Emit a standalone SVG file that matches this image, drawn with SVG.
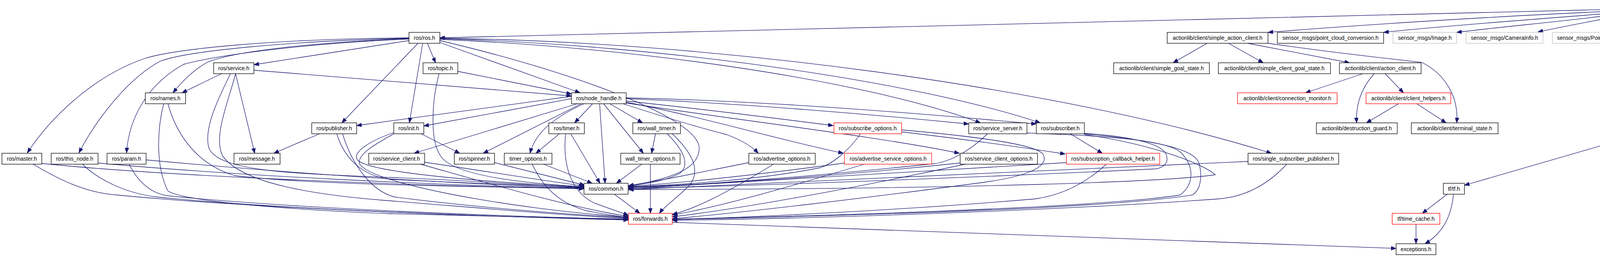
<svg xmlns="http://www.w3.org/2000/svg" width="6012" height="659" viewBox="0 0 6012 659">
<style>
rect{fill:#fff;stroke:#000;stroke-width:1.3}
rect.r{stroke:#ff0000}
rect.g{stroke:#bfbfbf}
rect.root{fill:#bfbfbf;stroke:#000}
text{font-family:"Liberation Sans",Arial,sans-serif;font-size:14px;text-anchor:middle;fill:#000}
#edges path{fill:none;stroke:#191970;stroke-width:1.3;marker-end:url(#a)}
</style>
<defs>
<marker id="a" markerWidth="14" markerHeight="10" refX="13" refY="5" orient="auto" markerUnits="userSpaceOnUse"><path d="M0,0 L13,5 L0,10 z" fill="#191970" stroke="#191970" stroke-width="1"/></marker>
</defs>
<rect x="0" y="0" width="6012" height="659" style="fill:#fff;stroke:none"/>
<g id="edges">
<path d="M4168,23 C3400,40 2000,78 1126,97"/>
<path d="M4168,27 C3900,38 3500,62 3246,83"/>
<path d="M4168,30 C4000,45 3700,65 3542,83"/>
<path d="M4168,33 C4050,50 3850,68 3729,83"/>
<path d="M4180,34 C4100,50 4000,68 3937,82"/>
<path d="M4262,34 L4117,83"/>
<path d="M4304,34 L4304,83"/>
<path d="M4356,34 L4529,83"/>
<path d="M4414,34 L4797,83"/>
<path d="M4439,30 C4700,45 4950,65 5131,85"/>
<path d="M4439,27 C4800,40 5150,60 5387,84"/>
<path d="M4439,24 C4900,35 5400,60 5713,84"/>
<path d="M4439,26 C4800,40 5050,60 5066,80 C5085,110 5050,140 4990,165 C4850,210 4700,225 4601,241"/>
<path d="M1047,104 L650,166"/>
<path d="M1047,99 C820,108 600,130 530,160 C495,180 465,210 443,238"/>
<path d="M1047,97 C700,100 450,125 370,150 C240,195 130,300 70,392"/>
<path d="M1047,98 C750,105 480,130 410,157 C330,200 250,300 202,392"/>
<path d="M1047,100 C800,110 560,140 470,165 C380,215 330,300 324,392"/>
<path d="M1070,111 L875,315"/>
<path d="M1082,111 L1048,315"/>
<path d="M1094,111 L1115,161"/>
<path d="M1126,109 L1485,238"/>
<path d="M1126,104 C1450,180 1790,300 1790,380 C1790,440 1700,460 1609,477"/>
<path d="M1126,101 C1600,120 2200,200 2510,315"/>
<path d="M1126,99 C1700,115 2350,210 2663,315"/>
<path d="M1126,98 C1800,105 2700,220 3255,393"/>
<path d="M1172,183 L1463,241"/>
<path d="M1124,189 C1105,260 1100,360 1128,400 C1150,435 1250,465 1495,479"/>
<path d="M567,189 L466,238"/>
<path d="M650,180 L1463,246"/>
<path d="M603,189 L652,393"/>
<path d="M590,189 C560,250 520,330 535,380 C560,440 750,445 1000,455 C1250,465 1400,478 1495,481"/>
<path d="M603,189 C585,260 545,350 570,400 C620,470 800,500 1000,515 C1250,535 1450,553 1609,560"/>
<path d="M419,266 C405,320 395,420 430,490 C480,520 800,540 1000,548 C1300,555 1500,560 1609,563"/>
<path d="M430,266 C450,340 500,420 600,450 C750,470 1100,478 1495,483"/>
<path d="M107,419 C400,450 1000,475 1495,484"/>
<path d="M83,420 C150,460 220,495 300,500 C600,530 1200,555 1609,564"/>
<path d="M251,418 C600,450 1100,475 1495,483"/>
<path d="M210,420 C250,460 320,495 400,505 C700,535 1200,555 1609,563"/>
<path d="M374,410 C700,440 1100,470 1495,482"/>
<path d="M330,420 C350,460 380,495 430,502 C700,530 1200,553 1609,562"/>
<path d="M818,343 L701,393"/>
<path d="M862,343 C880,400 920,450 1000,460 C1200,470 1400,476 1495,480"/>
<path d="M877,343 C900,420 950,490 1010,505 C1200,530 1450,550 1609,558"/>
<path d="M1078,343 L1177,393"/>
<path d="M1008,340 C950,360 900,390 915,410 C940,440 1200,465 1495,479"/>
<path d="M1010,342 C960,370 915,395 920,420 C950,470 1300,535 1609,557"/>
<path d="M1463,253 L1085,323"/>
<path d="M1463,247 L913,322"/>
<path d="M1478,266 L1060,393"/>
<path d="M1488,266 L1237,393"/>
<path d="M1495,266 C1420,300 1370,340 1357,393"/>
<path d="M1517,266 L1471,315"/>
<path d="M1535,266 L1549,470"/>
<path d="M1545,266 L1647,393"/>
<path d="M1561,266 L1645,315"/>
<path d="M1595,266 C1700,300 1800,330 1860,345 C1900,360 1925,375 1941,393"/>
<path d="M1603,259 C1800,280 2000,305 2133,322"/>
<path d="M1603,253 C1900,265 2250,295 2480,318"/>
<path d="M1603,251 C1950,258 2350,290 2653,318"/>
<path d="M1603,262 C1800,300 2000,360 2159,393"/>
<path d="M1603,264 C1900,310 2250,350 2456,393"/>
<path d="M1432,343 L1372,393"/>
<path d="M1461,343 L1536,470"/>
<path d="M1448,343 C1440,420 1460,490 1520,520 C1560,535 1590,545 1609,552"/>
<path d="M1678,343 L1668,393"/>
<path d="M1708,343 C1745,380 1770,420 1740,445 C1700,465 1650,472 1609,477"/>
<path d="M1721,343 C1770,390 1800,440 1760,480 C1730,510 1700,530 1688,547"/>
<path d="M1087,416 C1250,440 1400,465 1495,477"/>
<path d="M1073,420 C1250,470 1450,530 1609,555"/>
<path d="M1266,417 L1497,475"/>
<path d="M1389,420 L1516,470"/>
<path d="M1362,420 C1390,480 1430,520 1500,540 C1550,550 1590,555 1609,558"/>
<path d="M1644,420 L1578,470"/>
<path d="M1665,420 L1665,547"/>
<path d="M1573,498 L1638,547"/>
<path d="M1917,417 C1800,440 1700,462 1609,476"/>
<path d="M1982,420 C1900,470 1800,530 1721,550"/>
<path d="M2203,343 C2170,390 2130,420 2100,430 C1950,460 1750,474 1609,479"/>
<path d="M2308,338 C2450,355 2600,375 2727,395"/>
<path d="M2308,333 C2500,350 2650,370 2670,395 C2690,430 2620,455 2500,470 C2200,510 1900,545 1721,561"/>
<path d="M2162,418 C2000,440 1800,465 1609,478"/>
<path d="M2216,420 C2050,470 1850,530 1721,551"/>
<path d="M2458,418 C2200,445 1900,470 1609,480"/>
<path d="M2475,420 C2200,480 1900,535 1721,556"/>
<path d="M2528,343 C2480,390 2430,415 2390,420 C2100,450 1800,475 1609,481"/>
<path d="M2629,341 C2800,348 2990,355 3025,393 C3055,425 3060,470 3021,500 C2800,535 2000,556 1721,562"/>
<path d="M2740,343 L2822,393"/>
<path d="M2776,342 C2900,350 2975,370 2985,395 C2995,420 2975,430 2960,433 C2500,455 1900,478 1609,483"/>
<path d="M2776,343 C2950,360 3060,380 3070,420 C3080,460 3070,490 3052,500 C2800,540 2000,556 1721,563"/>
<path d="M2776,345 C2950,370 3080,420 3111,448 C3000,465 2500,485 1609,486"/>
<path d="M2730,417 C2300,440 1900,470 1609,484"/>
<path d="M2833,420 C2780,470 2720,500 2650,510 C2300,540 1900,558 1721,563"/>
<path d="M3195,414 C2600,440 2000,470 1609,486"/>
<path d="M3295,420 C3240,480 3180,505 3120,510 C2700,540 2100,560 1721,565"/>
<path d="M1721,570 C2400,590 3000,615 3574,637"/>
<path d="M3090,111 L3003,161"/>
<path d="M3145,111 L3234,161"/>
<path d="M3194,111 L3455,161"/>
<path d="M3246,111 C3450,140 3600,155 3640,160 C3700,190 3735,250 3729,315"/>
<path d="M3489,189 L3342,238"/>
<path d="M3546,189 L3593,238"/>
<path d="M3518,189 C3490,220 3470,260 3473,315"/>
<path d="M3580,266 L3498,315"/>
<path d="M3627,266 L3702,315"/>
<path d="M4470,266 L3749,475"/>
<path d="M3705,498 L3641,547"/>
<path d="M3721,498 C3715,560 3690,600 3648,625"/>
<path d="M3625,575 L3625,625"/>
</g>
<g id="n_root"><rect class="root" x="4168" y="6" width="271" height="28"/><text x="4303.5" y="25">grasp_planning_gripper_click_node.cpp</text></g>
<g id="n_ros"><rect x="1047" y="83" width="79" height="28"/><text x="1086.5" y="102">ros/ros.h</text></g>
<g id="n_sac"><rect x="2988" y="83" width="258" height="28"/><text x="3117" y="102">actionlib/client/simple_action_client.h</text></g>
<g id="n_pcc"><rect x="3270" y="83" width="272" height="28"/><text x="3406" y="102">sensor_msgs/point_cloud_conversion.h</text></g>
<g id="n_img"><rect class="g" x="3566" y="83" width="163" height="28"/><text x="3647.5" y="102">sensor_msgs/Image.h</text></g>
<g id="n_cam"><rect class="g" x="3753" y="83" width="197" height="28"/><text x="3851.5" y="102">sensor_msgs/CameraInfo.h</text></g>
<g id="n_pc2"><rect class="g" x="3974" y="83" width="199" height="28"/><text x="4073.5" y="102">sensor_msgs/PointCloud2.h</text></g>
<g id="n_disp"><rect class="g" x="4195" y="83" width="218" height="28"/><text x="4304" y="102">stereo_msgs/DisparityImage.h</text></g>
<g id="n_grasp"><rect class="g" x="4436" y="83" width="301" height="28"/><text x="4586.5" y="102">object_manipulation_msgs/GraspPlanning.h</text></g>
<g id="n_place"><rect class="g" x="4760" y="83" width="298" height="28"/><text x="4909" y="102">object_manipulation_msgs/PlacePlanning.h</text></g>
<g id="n_rgbd"><rect class="g" x="5131" y="83" width="234" height="28"/><text x="5248" y="102">rgbd_assembler/RgbdAssembly.h</text></g>
<g id="n_pick"><rect class="g" x="5387" y="83" width="303" height="28"/><text x="5538.5" y="102">pr2_gripper_click/GripperClickPickupAction.h</text></g>
<g id="n_placeact"><rect class="g" x="5713" y="83" width="295" height="28"/><text x="5860.5" y="102">pr2_gripper_click/GripperClickPlaceAction.h</text></g>
<g id="n_service"><rect x="547" y="161" width="103" height="28"/><text x="598.5" y="180">ros/service.h</text></g>
<g id="n_topic"><rect x="1083" y="161" width="89" height="28"/><text x="1127.5" y="180">ros/topic.h</text></g>
<g id="n_sgs"><rect x="2851" y="161" width="245" height="28"/><text x="2973.5" y="180">actionlib/client/simple_goal_state.h</text></g>
<g id="n_scgs"><rect x="3119" y="161" width="287" height="28"/><text x="3262.5" y="180">actionlib/client/simple_client_goal_state.h</text></g>
<g id="n_ac"><rect x="3429" y="161" width="209" height="28"/><text x="3533.5" y="180">actionlib/client/action_client.h</text></g>
<g id="n_names"><rect x="372" y="238" width="103" height="28"/><text x="423.5" y="257">ros/names.h</text></g>
<g id="n_nh"><rect x="1463" y="238" width="140" height="28"/><text x="1533" y="257">ros/node_handle.h</text></g>
<g id="n_cm"><rect class="r" x="3168" y="238" width="255" height="28"/><text x="3295.5" y="257">actionlib/client/connection_monitor.h</text></g>
<g id="n_ch"><rect class="r" x="3497" y="238" width="217" height="28"/><text x="3605.5" y="257">actionlib/client/client_helpers.h</text></g>
<g id="n_tl"><rect x="4439" y="238" width="162" height="28"/><text x="4520" y="257">tf/transform_listener.h</text></g>
<g id="n_pub"><rect x="798" y="315" width="115" height="28"/><text x="855.5" y="334">ros/publisher.h</text></g>
<g id="n_init"><rect x="1008" y="315" width="77" height="28"/><text x="1046.5" y="334">ros/init.h</text></g>
<g id="n_timer"><rect x="1405" y="315" width="91" height="28"/><text x="1450.5" y="334">ros/timer.h</text></g>
<g id="n_wtimer"><rect x="1620" y="315" width="122" height="28"/><text x="1681" y="334">ros/wall_timer.h</text></g>
<g id="n_subopt"><rect class="r" x="2135" y="315" width="173" height="28"/><text x="2221.5" y="334">ros/subscribe_options.h</text></g>
<g id="n_ss"><rect x="2480" y="315" width="149" height="28"/><text x="2554.5" y="334">ros/service_server.h</text></g>
<g id="n_sub"><rect x="2653" y="315" width="123" height="28"/><text x="2714.5" y="334">ros/subscriber.h</text></g>
<g id="n_dg"><rect x="3370" y="315" width="207" height="28"/><text x="3473.5" y="334">actionlib/destruction_guard.h</text></g>
<g id="n_ts"><rect x="3613" y="315" width="222" height="28"/><text x="3724" y="334">actionlib/client/terminal_state.h</text></g>
<g id="n_master"><rect x="5" y="393" width="102" height="28"/><text x="56" y="412">ros/master.h</text></g>
<g id="n_thisnode"><rect x="131" y="393" width="120" height="28"/><text x="191" y="412">ros/this_node.h</text></g>
<g id="n_param"><rect x="274" y="393" width="100" height="28"/><text x="324" y="412">ros/param.h</text></g>
<g id="n_msg"><rect x="599" y="393" width="118" height="28"/><text x="658" y="412">ros/message.h</text></g>
<g id="n_sc"><rect x="944" y="393" width="143" height="28"/><text x="1015.5" y="412">ros/service_client.h</text></g>
<g id="n_spin"><rect x="1163" y="393" width="103" height="28"/><text x="1214.5" y="412">ros/spinner.h</text></g>
<g id="n_to"><rect x="1291" y="393" width="122" height="28"/><text x="1352" y="412">timer_options.h</text></g>
<g id="n_wto"><rect x="1589" y="393" width="152" height="28"/><text x="1665" y="412">wall_timer_options.h</text></g>
<g id="n_ao"><rect x="1917" y="393" width="170" height="28"/><text x="2002" y="412">ros/advertise_options.h</text></g>
<g id="n_aso"><rect class="r" x="2162" y="393" width="223" height="28"/><text x="2273.5" y="412">ros/advertise_service_options.h</text></g>
<g id="n_sco"><rect x="2458" y="393" width="198" height="28"/><text x="2557" y="412">ros/service_client_options.h</text></g>
<g id="n_sch"><rect class="r" x="2730" y="393" width="239" height="28"/><text x="2849.5" y="412">ros/subscription_callback_helper.h</text></g>
<g id="n_ssp"><rect x="3195" y="393" width="232" height="28"/><text x="3311" y="412">ros/single_subscriber_publisher.h</text></g>
<g id="n_common"><rect x="1495" y="470" width="113" height="28"/><text x="1551.5" y="489">ros/common.h</text></g>
<g id="n_tf"><rect x="3695" y="470" width="54" height="28"/><text x="3722" y="489">tf/tf.h</text></g>
<g id="n_fwd"><rect class="r" x="1609" y="547" width="112" height="28"/><text x="1665" y="566">ros/forwards.h</text></g>
<g id="n_tc"><rect class="r" x="3564" y="547" width="122" height="28"/><text x="3625" y="566">tf/time_cache.h</text></g>
<g id="n_exc"><rect x="3574" y="625" width="102" height="28"/><text x="3625" y="644">exceptions.h</text></g>
</svg>
